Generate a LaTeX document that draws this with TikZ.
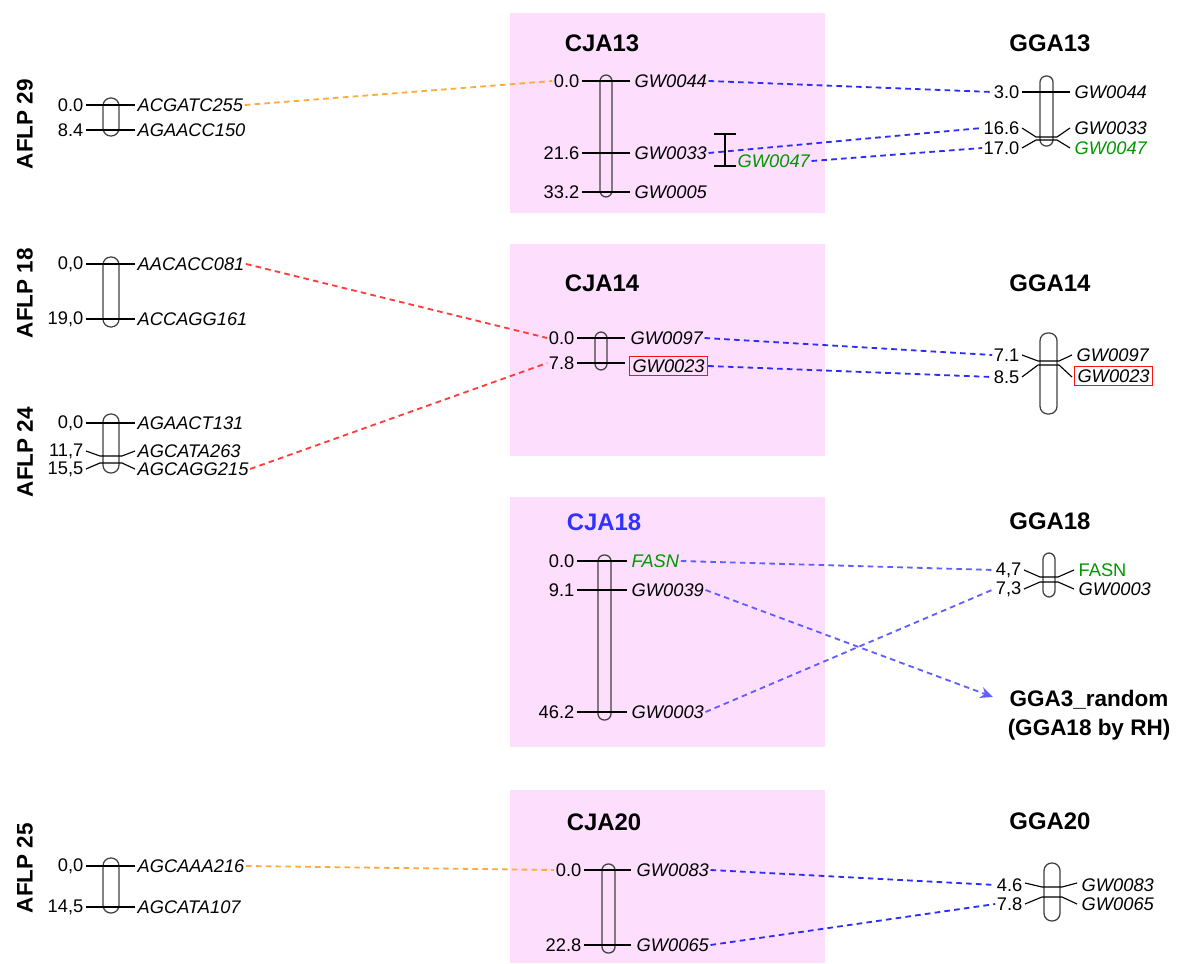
\documentclass[tikz,border=0pt]{standalone}
\usepackage{fontspec}
\setmainfont{Liberation Sans}
\usetikzlibrary{
  arrows.meta,  % Stealth tip of the RH arrow
  positioning
}
\definecolor{panelpink}{RGB}{253,222,253}
\definecolor{linkblue}{RGB}{45,45,250}
\definecolor{linkblue2}{RGB}{95,95,255}
\definecolor{linkred}{RGB}{255,60,60}
\definecolor{linkorange}{RGB}{255,170,60}
\definecolor{locusgreen}{RGB}{0,150,0}
\definecolor{boxred}{RGB}{250,20,20}
\definecolor{titleblue}{RGB}{50,50,255}
\tikzset{
  every node/.style={font=\fontsize{13}{15}\selectfont,inner sep=1pt},
  pos label/.style={anchor=east},
  locus/.style={anchor=west,font=\fontsize{13}{15}\selectfont\itshape},
  green locus/.style={locus,text=locusgreen},
  boxed locus/.style={locus,draw=boxred,line width=1pt,inner sep=2pt},
  side title/.style={font=\fontsize{16}{21}\selectfont\bfseries},
  chr title/.style={font=\fontsize{17}{21}\selectfont\bfseries},
  aflp/.style={side title,rotate=90},
  chrom/.style={draw=black!75,line width=0.9pt,rounded corners=4.4pt},
  chrom wide/.style={chrom,rounded corners=5.5pt},
  tk/.style={draw,line width=0.8pt,line join=round},
  link/.style={line width=1.3pt,dash pattern=on 4pt off 3pt},
  blue link/.style={link,linkblue},
  light link/.style={link,linkblue2},
  red link/.style={link,linkred},
  orange link/.style={link,linkorange}
}

\begin{document}
\begin{tikzpicture}[x=0.025cm,y=-0.025cm]
\useasboundingbox (0,0) rectangle (1178,964);
% pink panels
\fill[panelpink] (510,13) rectangle (825,213);
\fill[panelpink] (510,244) rectangle (825,456);
\fill[panelpink] (510,497) rectangle (825,747);
\fill[panelpink] (510,790) rectangle (825,963);

% ---- group 13
\node[aflp] (t29) at (25,124) {AFLP 29};
\node[chr title] (tc13) at (602,43) {CJA13};
\node[chr title] (tg13) at (1050,43) {GGA13};

\draw[chrom wide] (103,98) rectangle (119,136);
\draw[tk] (86,105) -- (135,105);
\draw[tk] (86,130) -- (135,130);
\node[pos label] (a29n1) at (85,105) {0.0};
\node[pos label] (a29n2) at (85,130) {8.4};
\node[locus] (a29m1) at (136,105) {ACGATC255};
\node[locus] (a29m2) at (136,130) {AGAACC150};

\draw[chrom] (600,75) rectangle (612,197);
\draw[tk] (582,81) -- (630,81);
\draw[tk] (582,153) -- (630,153);
\draw[tk] (582,192) -- (630,192);
\node[pos label] (c13n1) at (581,81) {0.0};
\node[pos label] (c13n2) at (581,153) {21.6};
\node[pos label] (c13n3) at (581,192) {33.2};
\node[locus] (c13m1) at (633,81) {GW0044};
\node[locus] (c13m2) at (633,153) {GW0033};
\node[locus] (c13m3) at (633,192) {GW0005};
\draw[tk] (725,134) -- (725,166);
\draw[tk] (714,134) -- (736,134);
\draw[tk] (714,166) -- (736,166);
\node[green locus] (c13m4) at (736,161) {GW0047};

\draw[chrom] (1040,76) rectangle (1053,146);
\draw[tk] (1022,92) -- (1070,92);
\draw[tk] (1022,128) -- (1036,137) -- (1057,137) -- (1070,128);
\draw[tk] (1022,148) -- (1036,140) -- (1057,140) -- (1070,148);
\node[pos label] (g13n1) at (1021,92) {3.0};
\node[pos label] (g13n2) at (1021,128) {16.6};
\node[pos label] (g13n3) at (1021,148) {17.0};
\node[locus] (g13m1) at (1073,92) {GW0044};
\node[locus] (g13m2) at (1073,128) {GW0033};
\node[green locus] (g13m3) at (1073,148) {GW0047};

\draw[orange link] (a29m1.east) -- (c13n1.west);
\draw[blue link] (c13m1.east) -- (g13n1.west);
\draw[blue link] (c13m2.east) -- (g13n2.west);
\draw[blue link] (c13m4.east) -- (g13n3.west);

% ---- group 14
\node[aflp] (t18) at (25,293) {AFLP 18};
\node[aflp] (t24) at (25,452) {AFLP 24};
\node[chr title] (tc14) at (602,283) {CJA14};
\node[chr title] (tg14) at (1050,283) {GGA14};

\draw[chrom wide] (103,257) rectangle (119,327);
\draw[tk] (86,264) -- (135,264);
\draw[tk] (86,319) -- (135,319);
\node[pos label] (a18n1) at (85,264) {0,0};
\node[pos label] (a18n2) at (85,319) {19,0};
\node[locus] (a18m1) at (136,264) {AACACC081};
\node[locus] (a18m2) at (136,319) {ACCAGG161};

\draw[chrom wide] (103,414) rectangle (119,473);
\draw[tk] (86,423) -- (135,423);
\draw[tk] (86,451) -- (100,456) -- (122,456) -- (135,451);
\draw[tk] (86,469) -- (100,463) -- (122,463) -- (135,469);
\node[pos label] (a24n1) at (85,423) {0,0};
\node[pos label] (a24n2) at (85,451) {11,7};
\node[pos label] (a24n3) at (85,469) {15,5};
\node[locus] (a24m1) at (136,423) {AGAACT131};
\node[locus] (a24m2) at (136,451) {AGCATA263};
\node[locus] (a24m3) at (136,469) {AGCAGG215};

\draw[chrom] (595,332) rectangle (607,370);
\draw[tk] (577,338) -- (625,338);
\draw[tk] (577,363) -- (625,363);
\node[pos label] (c14n1) at (576,338) {0.0};
\node[pos label] (c14n2) at (576,363) {7.8};
\node[locus] (c14m1) at (629,338) {GW0097};
\node[boxed locus] (c14m2) at (629,366) {GW0023};

\draw[chrom wide] (1040,333) rectangle (1057,414);
\draw[tk] (1022,355) -- (1038,361) -- (1059,361) -- (1072,355);
\draw[tk] (1022,377) -- (1038,365) -- (1059,365) -- (1072,377);
\node[pos label] (g14n1) at (1021,355) {7.1};
\node[pos label] (g14n2) at (1021,377) {8.5};
\node[locus] (g14m1) at (1075,355) {GW0097};
\node[boxed locus] (g14m2) at (1074,376) {GW0023};

\draw[red link] (a18m1.east) -- (c14n1.west);
\draw[red link] (a24m3.east) -- (c14n2.west);
\draw[blue link] (c14m1.east) -- (g14n1.west);
\draw[blue link] (c14m2.east) -- (g14n2.west);

% ---- group 18
\node[chr title,text=titleblue] (tc18) at (604,522) {CJA18};
\node[chr title] (tg18) at (1050,521) {GGA18};

\draw[chrom] (598,555) rectangle (611,720);
\draw[tk] (577,561) -- (627,561);
\draw[tk] (577,590) -- (627,590);
\draw[tk] (577,712) -- (627,712);
\node[pos label] (c18n1) at (576,561) {0.0};
\node[pos label] (c18n2) at (576,590) {9.1};
\node[pos label] (c18n3) at (576,712) {46.2};
\node[green locus] (c18m1) at (630,561) {FASN};
\node[locus] (c18m2) at (630,590) {GW0039};
\node[locus] (c18m3) at (630,712) {GW0003};

\draw[chrom] (1043,553) rectangle (1055,597);
\draw[tk] (1024,570) -- (1040,577) -- (1058,577) -- (1074,570);
\draw[tk] (1024,589) -- (1040,582) -- (1058,582) -- (1074,589);
\node[pos label] (g18n1) at (1023,570) {4,7};
\node[pos label] (g18n2) at (1023,589) {7,3};
\node[anchor=west,text=locusgreen] (g18m1) at (1077,570) {FASN};
\node[locus] (g18m2) at (1077,589) {GW0003};

\node[side title,align=center] (rh) at (1089,715) {GGA3\_random\\(GGA18 by RH)};
\coordinate (rhin) at (993,697);

\draw[light link] (c18m1.east) -- (g18n1.west);
\draw[light link] (c18m3.east) -- (g18n2.west);
\draw[light link,-{Stealth[length=9pt,width=8pt]}] (c18m2.east) -- (rhin);

% ---- group 20
\node[aflp] (t25) at (25,868) {AFLP 25};
\node[chr title] (tc20) at (604,822) {CJA20};
\node[chr title] (tg20) at (1050,821) {GGA20};

\draw[chrom wide] (103,858) rectangle (119,913);
\draw[tk] (86,866) -- (135,866);
\draw[tk] (86,907) -- (135,907);
\node[pos label] (a25n1) at (85,866) {0,0};
\node[pos label] (a25n2) at (85,907) {14,5};
\node[locus] (a25m1) at (136,866) {AGCAAA216};
\node[locus] (a25m2) at (136,907) {AGCATA107};

\draw[chrom] (602,864) rectangle (615,953);
\draw[tk] (584,870) -- (631,870);
\draw[tk] (584,945) -- (631,945);
\node[pos label] (c20n1) at (583,870) {0.0};
\node[pos label] (c20n2) at (583,945) {22.8};
\node[locus] (c20m1) at (635,870) {GW0083};
\node[locus] (c20m2) at (635,945) {GW0065};

\draw[chrom wide] (1044,863) rectangle (1060,921);
\draw[tk] (1025,883) -- (1042,887) -- (1062,887) -- (1077,883);
\draw[tk] (1025,904) -- (1042,897) -- (1062,897) -- (1077,904);
\node[pos label] (g20n1) at (1024,885) {4.6};
\node[pos label] (g20n2) at (1024,904) {7.8};
\node[locus] (g20m1) at (1080,885) {GW0083};
\node[locus] (g20m2) at (1080,904) {GW0065};

\draw[orange link] (a25m1.east) -- (c20n1.west);
\draw[blue link] (c20m1.east) -- (g20n1.west);
\draw[blue link] (c20m2.east) -- (g20n2.west);
\end{tikzpicture}
\end{document}
